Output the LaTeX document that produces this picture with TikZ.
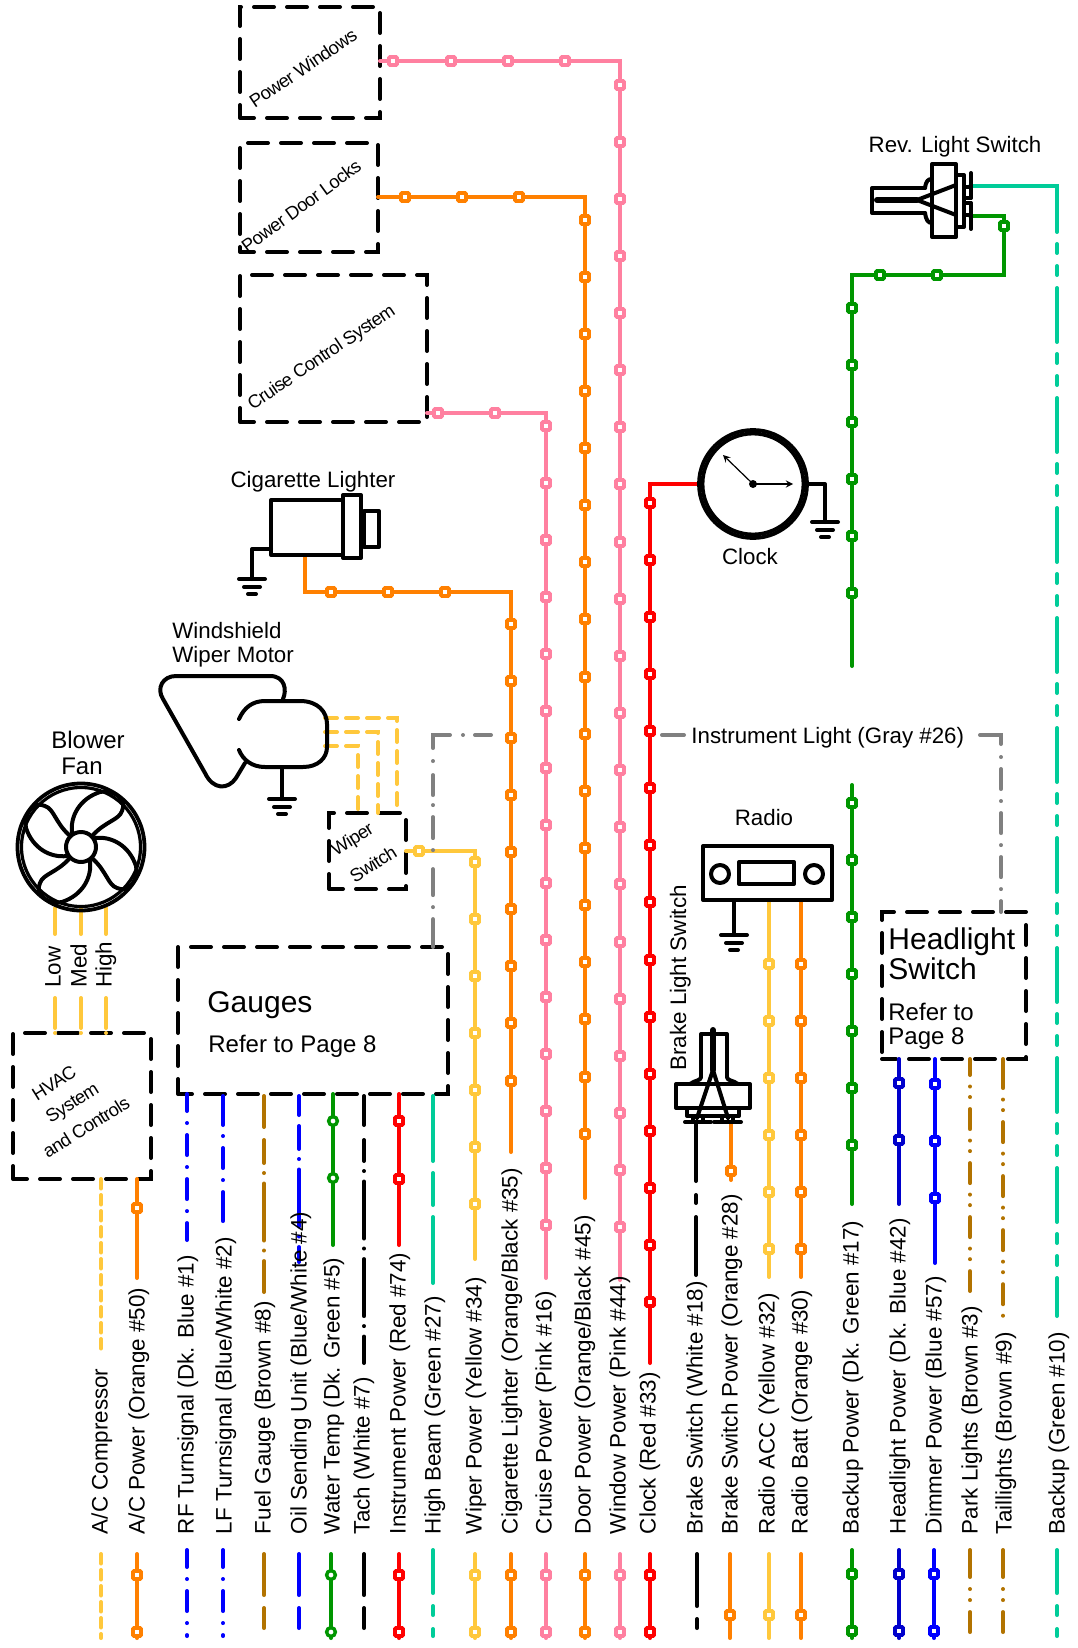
\documentclass[tikz,border=0pt]{standalone}
\usepackage{fontspec}
\setmainfont{Liberation Sans}
\newfontfamily\tightfont[LetterSpace=-3.3]{Liberation Sans}
\usetikzlibrary{arrows}
\usetikzlibrary{positioning}
\definecolor{wireyellow}{HTML}{FFC83C}
\definecolor{wireorange}{HTML}{FF8000}
\definecolor{wirepink}{HTML}{FF80A0}
\definecolor{wirered}{HTML}{FF0000}
\definecolor{wiregreen}{HTML}{009600}
\definecolor{wireteal}{HTML}{00CC99}
\definecolor{wireblue}{HTML}{0000FF}
\definecolor{wiredkblue}{HTML}{0000CC}
\definecolor{wirebrown}{HTML}{B27300}
\definecolor{wiregray}{HTML}{808080}
\tikzset{
  wire/.style={line width=2pt,line cap=round,line join=miter,draw=#1},
  wire/.default=black,
  sym/.style={draw=black,line width=2pt,line join=round,line cap=round},
  dashbox/.style={draw=black,line width=2pt,line cap=round,line join=miter,
    dash pattern=on 10pt off 6.5pt,dash phase=3pt,inner sep=0pt,outer sep=0pt},
  sqmark/.style={rectangle,draw=#1,fill=white,line width=1.9pt,minimum size=4pt,
    inner sep=0pt,outer sep=0pt,rounded corners=.5pt},
  circmark/.style={circle,draw=#1,fill=white,line width=1.7pt,minimum size=4.4pt,
    inner sep=0pt,outer sep=0pt},
  wirelabel/.style={rotate=90,anchor=west,font=\fontsize{11.2}{13}\selectfont,
    inner sep=0pt,text height=8pt,text depth=2.3pt,yshift=-.9pt},
  title/.style={font=\fontsize{11.15}{12}\selectfont,inner sep=0pt},
  slant/.style={rotate=34,font=\tightfont\fontsize{9.2}{11}\selectfont,inner sep=0pt},
  bigtext/.style={font=\fontsize{15}{15}\selectfont,inner sep=0pt,align=left},
  reftext/.style={font=\fontsize{12}{12}\selectfont,inner sep=0pt,align=left},
  dotdash/.style={dash pattern=on 10pt off 6pt on .01pt off 6pt,dash phase=1.5pt},
  longdot/.style={dash pattern=on 28.5pt off 5pt on .01pt off 5.25pt},
  twodots/.style={dash pattern=on 10pt off 5.75pt on .01pt off 5.25pt on .01pt off 6pt},
  brokenshort/.style={dash pattern=on 20.5pt off 6.5pt on 10pt off 20pt},
  brokenteal/.style={dash pattern=on 21.5pt off 6.5pt on 4.5pt off 7pt on 4.5pt off 20pt},
  shortdash/.style={dash pattern=on 4.75pt off 3.25pt},
  motordash/.style={dash pattern=on 6pt off 4.5pt},
  gndsym/.pic={
    \draw[sym] (-13,0) -- (13,0);
    \draw[sym] (-8,8) -- (8,8);
    \draw[sym] (-4,15) -- (4,15);
  }
}
\begin{document}
\begin{tikzpicture}[x=0.5pt,y=-0.5pt]
\useasboundingbox (0,0) rectangle (1077,1648);
% boxes
\node[dashbox,minimum width=70pt,minimum height=55.5pt] (winbox) at (310,62.5) {};
\node[dashbox,minimum width=69pt,minimum height=54.5pt] (doorbox) at (309,197.5) {};
\node[dashbox,minimum width=93.5pt,minimum height=73.5pt] (cruisebox) at (333.5,348.5) {};
\node[dashbox,minimum width=135pt,minimum height=73.5pt] (gaugebox) at (313,1020.5) {};
\node[dashbox,minimum width=69pt,minimum height=73pt] (hvacbox) at (82,1106) {};
\node[dashbox,minimum width=38.5pt,minimum height=38pt] (wipebox) at (367.5,851) {};
\node[dashbox,minimum width=72pt,minimum height=73.5pt] (headbox) at (954,985.5) {};
% long wires
\draw[wire=wirepink] (winbox.east |- 0,61) -- (620,61) -- (620,1280);
\draw[wire=wireorange] (doorbox.east |- 0,197) -- (585,197) -- (585,1198);
\draw[wire=wirepink] (cruisebox.east |- 0,413) -- (546,413) -- (546,1278);
\draw[wire=wireorange] (305,555) -- (305,592) -- (511,592) -- (511,1152);
\draw[wire=wireyellow] (wipebox.east |- 0,851) -- (475,851) -- (475,1259);
\draw[wire=wirered] (698,484) -- (650,484) -- (650,1363);
\draw[wire=wiregreen] (970,216) -- (1004,216) -- (1004,275) -- (852,275) -- (852,666);
\draw[wire=wiregreen] (852,785) -- (852,1204);
\draw[wire=wireteal] (970,186) -- (1057,186) -- (1057,232);
\draw[wire=wireteal,dash pattern=on 4.5pt off 6.5pt on 4.5pt off 6.5pt on 27pt off 6pt] (1057,244) -- (1057,1316);
% instrument light
\draw[wire=wiregray,dash pattern=on 8pt off 6pt on .01pt off 6.5pt on 15pt off 6.5pt on .01pt off 7pt on 10pt off 5pt on .01pt off 6pt on 10.5pt off 6pt on .01pt off 9.5pt on 13pt off 6pt on .01pt off 6pt on 14pt off 20pt] (491,735) -- (433,735) -- (gaugebox.north -| 433,0);
\draw[wire=wiregray] (662,735) -- (684,735);
\draw[wire=wiregray,dash pattern=on 15pt off 6.5pt on .01pt off 6pt on 10pt off 6pt on .01pt off 6pt on 10pt off 6pt on .01pt off 6pt on 10pt off 6pt on .01pt off 6pt on 10pt off 20pt] (980,735) -- (1001,735) -- (headbox.north -| 1001,0);
% gauges harness
\draw[wire=wireblue,dotdash] (gaugebox.south -| 187,0) -- (187,1240);
\draw[wire=wireblue,dash pattern=on 14.5pt off 5.5pt on .01pt off 6pt on 10pt off 6pt on .01pt off 6pt on 14.5pt off 20pt] (223,1096) -- (223,1222);
\draw[wire=wirebrown] (264,1096) -- (264,1127);
\draw[wire=wirebrown,longdot,dash phase=17pt] (264,1140) -- (264,1292);
\draw[wire=wireblue] (299,1096) -- (299,1115);
\draw[wire=wireblue,longdot,dash phase=17pt] (299,1126) -- (299,1262);
\draw[wire=wiregreen] (gaugebox.south -| 333,0) -- (333,1245);
\draw[wire] (364,1096) -- (364,1125);
\draw[wire,longdot,dash phase=18pt] (364,1140) -- (364,1363);
\draw[wire=wirered] (gaugebox.south -| 399,0) -- (399,1245);
\draw[wire=wireteal,dash pattern=on 32.5pt off 6pt on 16pt off 6pt on 33pt off 20pt] (433,1096) -- (433,1284);
% hvac
\draw[wire=wireyellow,shortdash] (hvacbox.south -| 101,0) -- (101,1352);
\draw[wire=wireorange] (hvacbox.south -| 137,0) -- (137,1278);
\foreach \x in {55,81,106} {
  \draw[wire=wireyellow,dash pattern=on 13pt off 2.5pt on 20pt off 20pt] (\x,908) -- (\x,938);
  \draw[wire=wireyellow,dash pattern=on 15pt off 2.5pt on 20pt off 20pt] (\x,998) -- (\x,1033);
}
% wiper motor wires
\draw[wire=wireyellow,motordash] (325,718) -- (397,718) -- (397,813);
\draw[wire=wireyellow,motordash] (325,732) -- (378,732) -- (378,813);
\draw[wire=wireyellow,motordash] (325,746) -- (358,746) -- (358,813);
% radio and brake
\draw[wire=wireyellow] (769,900) -- (769,1277);
\draw[wire=wireorange] (801,900) -- (801,1277);
\draw[wire,dash pattern=on 29.5pt off 7pt on 4pt off 7pt on 29pt off 20pt] (696,1122) -- (696,1275);
\draw[wire=wireorange] (731,1122) -- (731,1180);
% headlight harness
\draw[wire=wiredkblue] (headbox.south -| 899,0) -- (899,1204);
\draw[wire=wireblue] (headbox.south -| 935,0) -- (935,1263);
\draw[wire=wirebrown,twodots,dash phase=2pt] (headbox.south -| 970,0) -- (970,1291);
\draw[wire=wirebrown] (1003,1059) -- (1003,1075);
\draw[wire=wirebrown,twodots,dash phase=22.5pt] (1003,1059) -- (1003,1316);
% bottom strip
\foreach \x/\c in {137/wireorange,399/wirered,475/wireyellow,511/wireorange,546/wirepink,585/wireorange,620/wirepink,650/wirered,331/wiregreen}
  \draw[wire=\c] (\x,1554) -- (\x,1638);
\foreach \x/\c in {852/wiregreen,899/wiredkblue,934/wireblue}
  \draw[wire=\c] (\x,1550) -- (\x,1638);
\foreach \x/\c in {730/wireorange,769/wireyellow,801/wireorange}
  \draw[wire=\c] (\x,1554) -- (\x,1638);
\foreach \x/\c in {264/wirebrown,299/wireblue,364/black}
  \draw[wire=\c,brokenshort] (\x,1554) -- (\x,1628);
\foreach \x in {187,223}
  \draw[wire=wireblue,dotdash] (\x,1550) -- (\x,1636);
\foreach \x in {433,1057}
  \draw[wire=wireteal,brokenteal] (\x,1550) -- (\x,1636);
\foreach \x in {970,1003}
  \draw[wire=wirebrown,dash pattern=on 13.5pt off 6pt on .01pt off 5.5pt on .01pt off 6pt on 10pt off 20pt] (\x,1550) -- (\x,1632);
\draw[wire=wireyellow,shortdash] (101,1554) -- (101,1638);
\draw[wire,dash pattern=on 26pt off 6.5pt on 4.5pt off 20pt] (697,1554) -- (697,1628);
% markers
\foreach \n/\c/\x/\yo/\km in {door/wireorange/585/220/16,win/wirepink/620/85/20,cruise/wirepink/546/426/14,cig/wireorange/511/624/8,wipe/wireyellow/475/862/6,clock/wirered/650/503/14,bkup/wiregreen/852/308/5,bklow/wiregreen/852/803/6,acc/wireyellow/769/964/5,batt/wireorange/801/964/5}
  \foreach \k in {0,...,\km} {
    \pgfmathtruncatemacro\y{\yo+57.14*\k}
    \node[sqmark=\c] (\n\k) at (\x,\y) {};
  }
\foreach \n/\c/\x/\y in {wa/wirepink/393/61,wb/wirepink/451/61,wc/wirepink/508/61,wd/wirepink/565/61,
  da/wireorange/405/197,db/wireorange/462/197,dc/wireorange/519/197,
  ca/wirepink/438/413,cb/wirepink/495/413,
  la/wireorange/331/592,lb/wireorange/388/592,lc/wireorange/445/592,
  ya/wireyellow/419/851,
  ga/wiregreen/880/275,gb/wiregreen/937/275,gc/wiregreen/1004/226,
  ac/wireorange/137/1208,ir/wirered/399/1121,is/wirered/399/1179,
  bs/wireorange/731/1171,
  ha/wiredkblue/899/1083,hb/wiredkblue/899/1140,
  dm/wireblue/935/1084,dn/wireblue/935/1141,dp/wireblue/935/1198}
  \node[sqmark=\c] (m\n) at (\x,\y) {};
\node[circmark=wiregreen] (wta) at (333,1121) {};
\node[circmark=wiregreen] (wtb) at (333,1178) {};
% bottom strip markers
\foreach \x/\c in {137/wireorange,399/wirered,475/wireyellow,511/wireorange,546/wirepink,585/wireorange,620/wirepink,650/wirered} {
  \node[sqmark=\c] (s\x) at (\x,1575) {};
  \node[sqmark=\c] (t\x) at (\x,1632) {};
}
\foreach \x/\c in {852/wiregreen,899/wiredkblue,934/wireblue} {
  \node[sqmark=\c] (s\x) at (\x,1574) {};
  \node[sqmark=\c] (t\x) at (\x,1631) {};
}
\foreach \x/\c in {730/wireorange,769/wireyellow,801/wireorange}
  \node[sqmark=\c] (s\x) at (\x,1615) {};
\node[circmark=wiregreen] (ws) at (331,1575) {};
\node[circmark=wiregreen] (wt) at (331,1632) {};
% blower fan
\draw[sym,line width=1.9pt] (81,847) circle (63.5);
\draw[sym,line width=1.6pt] (81,847) circle (59.5);
\foreach \a in {0,90,180,270}
  \draw[sym,shift={(81,847)},rotate=\a] (-9,-14) .. controls (-11,-30) and (-2,-48) .. (19,-55) .. controls (35,-58) and (46,-46) .. (41,-36) .. controls (38,-27) and (25,-26) .. (12,-12);
\draw[sym,fill=white] (81,847) circle (15);
% wiper motor
\draw[sym] (283,699) .. controls (287,690) and (285,676) .. (270,676) -- (176,676) .. controls (163,676) and (156,688) .. (163,699) -- (205,773) .. controls (213,790) and (228,790) .. (236,778) -- (245,763);
\draw[sym] (239,719) .. controls (244,708) and (252,701) .. (265,701) -- (300,701) .. controls (318,701) and (327,712) .. (327,724) -- (327,747) .. controls (327,758) and (318,767) .. (303,767) -- (265,767) .. controls (252,767) and (243,760) .. (239,750);
\draw[sym] (282,767) -- (282,799);
\pic (gndmotor) at (282,799) {gndsym};
% cigarette lighter
\draw[sym] (271,500) rectangle (343,555);
\draw[sym] (343,495) rectangle (361,558);
\draw[sym] (364,511) rectangle (379,547);
\draw[sym] (271,549) -- (252,549) -- (252,579);
\pic (gndcig) at (252,579) {gndsym};
% clock
\draw[sym,line width=1.9pt] (753,484) circle (54);
\draw[sym,line width=1.9pt] (753,484) circle (50.5);
\fill (753,484) circle (4);
\draw[->,>=stealth,line width=.6pt] (753,484) -- (723,455);
\draw[->,>=stealth,line width=.6pt] (753,484) -- (793,484);
\draw[sym] (808,484) -- (825,484) -- (825,522);
\pic (gndclock) at (825,522) {gndsym};
% rev switch
\draw[sym] (925,188) -- (872,188) -- (872,213) -- (925,213);
\draw[sym] (925,188) .. controls (926,181) and (928,179) .. (932,179);
\draw[sym] (925,213) .. controls (926,220) and (928,223) .. (932,223);
\draw[sym] (932,164) rectangle (956,237);
\draw[sym] (956,175) -- (964,175) -- (964,227) -- (956,227);
\draw[sym] (971,173) -- (971,198);
\draw[sym] (971,203) -- (971,229);
\foreach \y in {187,198,203,215}
  \draw[sym,line width=1.6pt] (964,\y) -- (971,\y);
\draw[sym,line width=3pt] (877,200) -- (917,200);
\draw[sym] (917,200) -- (956,185);
\draw[sym] (917,200) -- (956,215);
% brake switch
\draw[sym] (701,1077) -- (701,1034) -- (727,1034) -- (727,1077);
\draw[sym] (701,1077) .. controls (701,1081) and (695,1080) .. (690,1084);
\draw[sym] (727,1077) .. controls (727,1081) and (733,1080) .. (738,1084);
\draw[sym] (676,1084) rectangle (750,1108);
\draw[sym] (687,1108) rectangle (739,1116);
\draw[sym] (685,1122) -- (711,1122);
\draw[sym] (714,1122) -- (741,1122);
\foreach \x in {693,703,722,733}
  \draw[sym,line width=1.6pt] (\x,1116) -- (\x,1122);
\draw[sym,line width=3pt] (713,1030) -- (713,1070);
\draw[sym] (713,1070) -- (697,1118);
\draw[sym] (713,1070) -- (728,1118);
% radio
\draw[sym] (703,846) rectangle (832,900);
\draw[sym] (720,874) circle (9);
\draw[sym] (814,874) circle (9);
\draw[sym] (739,862) rectangle (794,884);
\draw[sym] (734,900) -- (734,935);
\pic (gndradio) at (734,935) {gndsym};
% texts
\node[slant] (wintext) at (303,68) {Power Windows};
\node[slant,rotate=2] (doortext) at (301,206) {Power Door Locks};
\node[slant] (cruisetext) at (322,358) {Cruise Control System};
\node[slant,rotate=-2] (hvaca) at (54,1083) {HVAC};
\node[slant,rotate=-2] (hvacb) at (73,1104) {System};
\node[slant,rotate=-2] (hvacc) at (86,1127) {and Controls};
\node[slant,rotate=-2] (wipea) at (353,840) {Wiper};
\node[slant,rotate=-2] (wipeb) at (373,864) {Switch};
\node[title] (cigtitle) at (313,482) {Cigarette Lighter};
\node[title,anchor=west,align=left] (motortitle) at (172,645) {Windshield\\Wiper Motor};
\node[title,font=\fontsize{12}{13}\selectfont] (fanta) at (88,740) {Blower};
\node[title,font=\fontsize{12}{13}\selectfont] (fantb) at (82,766) {Fan};
\node[title] (clocktitle) at (750,557) {Clock};
\node[title] (revtitle) at (955,147) {Rev. Light Switch};
\node[title] (radiotitle) at (764,818) {Radio};
\node[title,anchor=west] (graytitle) at (691,738) {Instrument Light (Gray \#26)};
\node[wirelabel] (braketitle) at (678.5,1071) {Brake Light Switch};
\node[wirelabel] (lowtext) at (53,988) {Low};
\node[wirelabel] (medtext) at (79,988) {Med};
\node[wirelabel] (hightext) at (104,988) {High};
\node[bigtext,anchor=west] (gaugetext) at (207,1005) {Gauges};
\node[reftext,anchor=west] (gaugeref) at (208,1046) {Refer to Page 8};
\node[bigtext,anchor=west] (headtext) at (888,954) {Headlight\\Switch};
\node[reftext,anchor=west] (headref) at (888,1026) {Refer to\\Page 8};
% wire labels
\foreach \n/\x/\t in {a/100/{A/C Compressor},b/137/{A/C Power (Orange \#50)},c/186/{RF Turnsignal (Dk. Blue \#1)},d/224/{LF Turnsignal (Blue/White \#2)},e/263/{Fuel Gauge (Brown \#8)},f/299/{Oil Sending Unit (Blue/White \#4)},g/332/{Water Temp (Dk. Green \#5)},h/362/{Tach (White \#7)},i/398/{Instrument Power (Red \#74)},j/433/{High Beam (Green \#27)},k/474/{Wiper Power (Yellow \#34)},l/510/{Cigarette Lighter (Orange/Black \#35)},m/544/{Cruise Power (Pink \#16)},n/583/{Door Power (Orange/Black \#45)},o/618/{Window Power (Pink \#44)},p/648/{Clock (Red \#33)},q/695/{Brake Switch (White \#18)},r/730/{Brake Switch Power (Orange \#28)},s/767/{Radio ACC (Yellow \#32)},t/800/{Radio Batt (Orange \#30)},u/851/{Backup Power (Dk. Green \#17)},v/898/{Headlight Power (Dk. Blue \#42)},w/934/{Dimmer Power (Blue \#57)},x/970/{Park Lights (Brown \#3)},y/1004/{Taillights (Brown \#9)},z/1057/{Backup (Green \#10)}}
  \node[wirelabel] (lab\n) at (\x,1534.5) {\t};
\end{tikzpicture}
\end{document}
